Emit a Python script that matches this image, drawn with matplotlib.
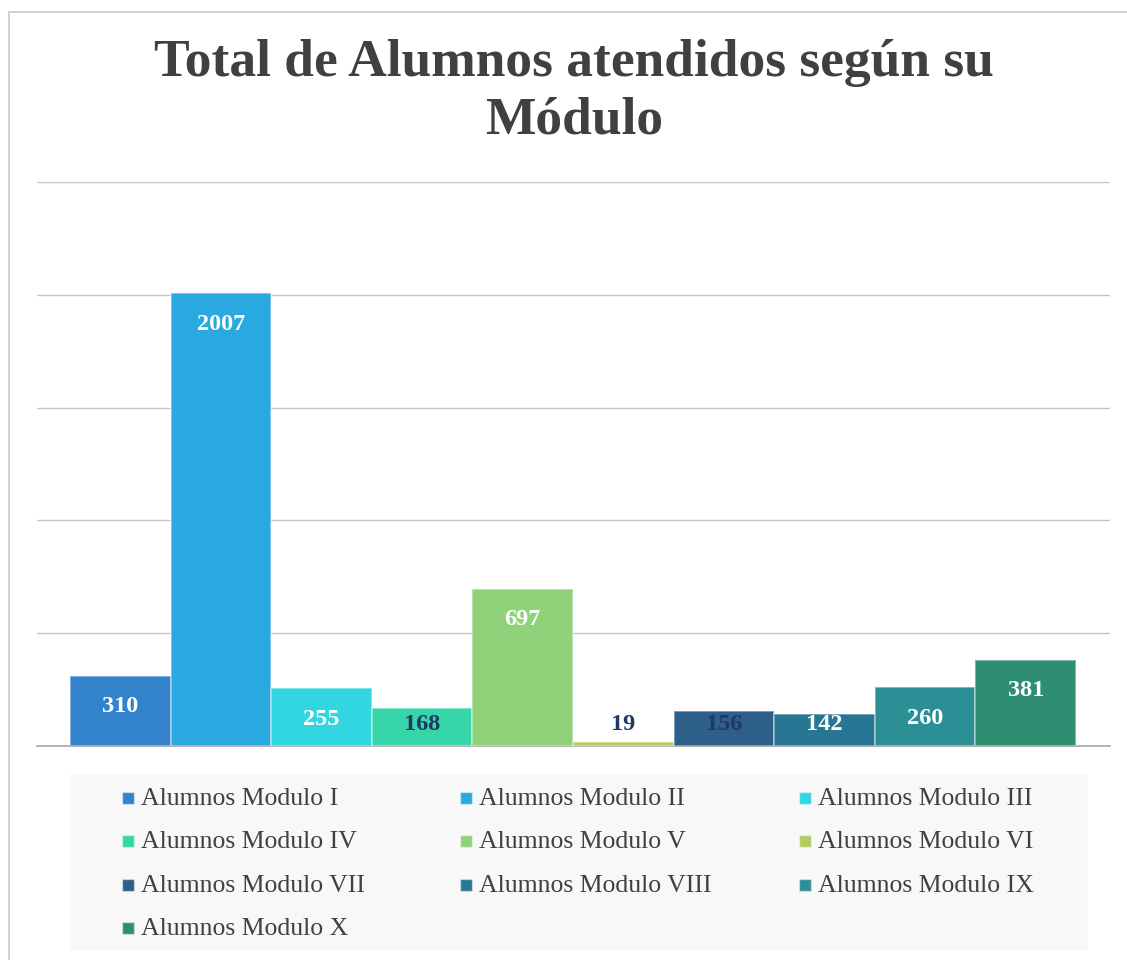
import numpy as np
import matplotlib.pyplot as plt
from matplotlib.patches import Rectangle

# datos
modulos = ["I", "II", "III", "IV", "V", "VI", "VII", "VIII", "IX", "X"]
alumnos = [310, 2007, 255, 168, 697, 19, 156, 142, 260, 381]
etiquetas = ["Alumnos Modulo " + m for m in modulos]

colores = ["#3382CC", "#29A9DF", "#31D6E0", "#36D6A9", "#90D27A",
           "#B3CB62", "#2E5E8A", "#277693", "#2C8F95", "#2F8E72"]
color_texto = ["white", "white", "white", "#1F3864", "white",
               "#1F3864", "#1F3864", "white", "white", "white"]

W, H = 1127, 960
fig = plt.figure(figsize=(W / 100, H / 100), dpi=100)

# borde del grafico
fig.patches.append(Rectangle((9 / W, -0.1), 1.2, (H - 12) / H + 0.1, transform=fig.transFigure,
                             facecolor="none", edgecolor="#C8C8C8", linewidth=1.2))

fig.text(574 / W, 1 - 63 / H, "Total de Alumnos atendidos según su", ha="center", va="center",
         fontsize=38.5, fontweight="bold", family="Liberation Serif", color="#404040")
fig.text(574 / W, 1 - 120 / H, "Módulo", ha="center", va="center",
         fontsize=38.5, fontweight="bold", family="Liberation Serif", color="#404040")

ax = fig.add_axes([37 / W, 214 / H, (1110 - 37) / W, (746 - 182) / H])
x = np.arange(len(alumnos))
ax.bar(x, alumnos, width=1.0, color=colores, edgecolor=(1, 1, 1, 0.45), linewidth=1.2, zorder=3)

ax.set_xlim(-0.5 - 0.328, len(alumnos) - 0.5 + 0.338)
ax.set_ylim(0, 2500)
ax.set_yticks(np.arange(0, 2501, 500))
ax.grid(axis="y", color="#C4C4C4", linewidth=1, zorder=0)
ax.set_xticks([])
ax.tick_params(axis="y", length=0, labelleft=False)
for s in ["top", "right", "left"]:
    ax.spines[s].set_visible(False)
ax.spines["bottom"].set_color("#A6A6A6")
ax.spines["bottom"].set_linewidth(1.2)

# etiquetas de datos
for i, v in enumerate(alumnos):
    ax.text(x[i], max(v - 137, 97), str(v), ha="center", va="center",
            fontsize=17.5, fontweight="bold", family="Liberation Serif", color=color_texto[i], zorder=4)

# leyenda
fig.patches.append(Rectangle((70 / W, 1 - 950 / H), (1088 - 70) / W, (950 - 775) / H,
                             transform=fig.transFigure, facecolor="#F8F8F8", edgecolor="none"))
col_x = [122, 460, 799]
fila_y = [798, 841, 885, 928]
for i, lab in enumerate(etiquetas):
    fx = col_x[i % 3]
    fy = fila_y[i // 3]
    fig.patches.append(Rectangle((fx / W, 1 - (fy + 6) / H), 12 / W, 12 / H, transform=fig.transFigure,
                                 facecolor=colores[i], edgecolor=(1, 1, 1, 0.45), linewidth=1))
    fig.text((fx + 19) / W, 1 - (fy + 7) / H, lab, ha="left", va="baseline",
             fontsize=18.5, family="Liberation Serif", color="#404040")

fig.savefig("out.png", dpi=100)
